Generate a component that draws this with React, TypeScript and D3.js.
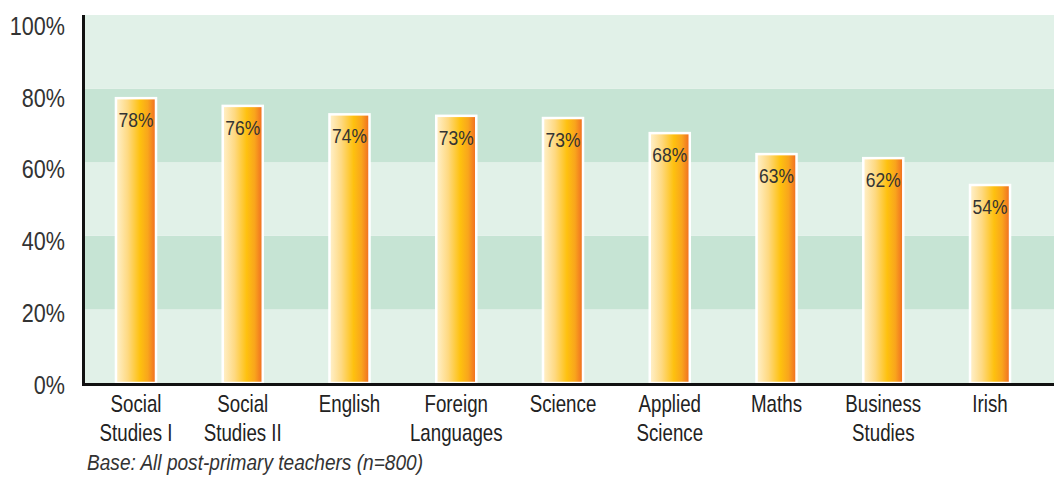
import React, { useEffect, useRef } from "react";
import * as d3 from "d3";

const categories = [
  "Social\nStudies I",
  "Social\nStudies II",
  "English",
  "Foreign\nLanguages",
  "Science",
  "Applied\nScience",
  "Maths",
  "Business\nStudies",
  "Irish",
];
// bar heights as drawn in the original (slightly below the printed, rounded labels)
const values = [77.4, 75.3, 73.0, 72.6, 72.0, 67.9, 62.2, 61.1, 53.8];
const valueLabels = ["78%", "76%", "74%", "73%", "73%", "68%", "63%", "62%", "54%"];
const yTicks = [0, 20, 40, 60, 80, 100];
const bands = [
  [0, 20, "#e1f1e8"],
  [20, 40, "#c6e4d4"],
  [40, 60, "#e1f1e8"],
  [60, 80, "#c6e4d4"],
  [80, 100, "#e1f1e8"],
] as const;
const footnote = "Base: All post-primary teachers (n=800)";

// no condensed font installed, so Liberation Sans gets squeezed horizontally
const FONT = "'Liberation Sans', Arial, sans-serif";

export default function App() {
  const ref = useRef<SVGSVGElement>(null);

  useEffect(() => {
    document.body.style.margin = "0";
    const width = 1054;
    const height = 477;
    const svg = d3.select(ref.current);
    svg.selectAll("*").remove();
    svg.attr("width", width).attr("height", height).style("display", "block");

    const y = d3.scaleLinear().domain([0, 100]).range([383, 15]);
    // tick labels sit slightly below their grid lines in the original
    const yLabel = d3.scaleLinear().domain([0, 100]).range([384.5, 25.5]);
    const x = d3
      .scaleBand<string>()
      .domain(categories)
      .range([82.6, 1043.4])
      .paddingInner(0.625)
      .paddingOuter(0.3125);
    const cx = (c: string) => x(c)! + x.bandwidth() / 2;

    const defs = svg.append("defs");
    const grad = defs
      .append("linearGradient")
      .attr("id", "barGrad")
      .attr("x1", "0%")
      .attr("x2", "100%");
    [
      ["0%", "#fff1cd"],
      ["30%", "#fed981"],
      ["60%", "#fec10f"],
      ["80%", "#f9a51c"],
      ["100%", "#f06a22"],
    ].forEach(([o, c]) => grad.append("stop").attr("offset", o).attr("stop-color", c));

    // striped background
    svg
      .append("g")
      .selectAll("rect")
      .data(bands)
      .enter()
      .append("rect")
      .attr("x", 84)
      .attr("width", width - 84)
      .attr("y", (d) => y(d[1]))
      .attr("height", (d) => y(d[0]) - y(d[1]))
      .attr("fill", (d) => d[2]);

    // bars
    const bars = svg
      .append("g")
      .selectAll("g")
      .data(values)
      .enter()
      .append("g");

    bars
      .append("rect")
      .attr("x", (d, i) => x(categories[i])!)
      .attr("width", x.bandwidth())
      .attr("y", (d) => y(d))
      .attr("height", (d) => y(0) - y(d))
      .attr("fill", "url(#barGrad)")
      .attr("stroke", "#ffffff")
      .attr("stroke-width", 2.5);

    bars
      .append("text")
      .attr("transform", (d, i) => `translate(${cx(categories[i])},${y(d) + 29}) scale(0.83,1)`)
      .attr("text-anchor", "middle")
      .style("font-family", FONT)
      .style("font-size", "21px")
      .style("fill", "#333")
      .text((d, i) => valueLabels[i]);

    // axes
    svg
      .append("line")
      .attr("x1", 83.5)
      .attr("x2", 83.5)
      .attr("y1", 15)
      .attr("y2", 386)
      .attr("stroke", "#111")
      .attr("stroke-width", 3);
    svg
      .append("line")
      .attr("x1", 82)
      .attr("x2", width)
      .attr("y1", 384.5)
      .attr("y2", 384.5)
      .attr("stroke", "#111")
      .attr("stroke-width", 3);

    svg
      .append("g")
      .selectAll("text")
      .data(yTicks)
      .enter()
      .append("text")
      .attr("transform", (d) => `translate(65,${yLabel(d)}) scale(0.83,1)`)
      .attr("dy", "0.36em")
      .attr("text-anchor", "end")
      .style("font-family", FONT)
      .style("font-size", "26px")
      .style("fill", "#333")
      .text((d) => d + "%");

    // category labels
    const cat = svg
      .append("g")
      .selectAll("text")
      .data(categories)
      .enter()
      .append("text")
      .attr("transform", (d) => `translate(${cx(d)},412) scale(0.78,1)`)
      .attr("text-anchor", "middle")
      .style("font-family", FONT)
      .style("font-size", "24px")
      .style("fill", "#222");
    cat
      .selectAll("tspan")
      .data((d) => d.split("\n"))
      .enter()
      .append("tspan")
      .attr("x", 0)
      .attr("dy", (d, i) => (i === 0 ? 0 : 29))
      .text((d) => d);

    svg
      .append("text")
      .attr("x", 87)
      .attr("y", 470)
      .attr("textLength", 336)
      .attr("lengthAdjust", "spacingAndGlyphs")
      .style("font-family", FONT)
      .style("font-size", "22px")
      .style("font-style", "italic")
      .style("fill", "#333")
      .text(footnote);
  }, []);

  return <svg ref={ref} />;
}
